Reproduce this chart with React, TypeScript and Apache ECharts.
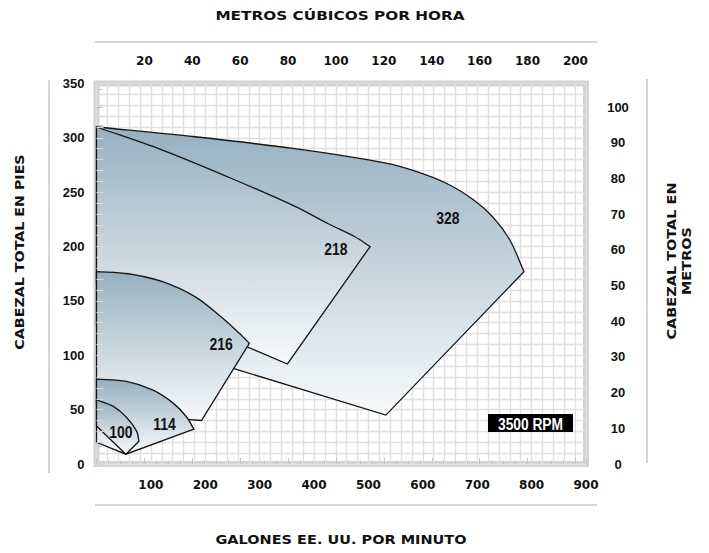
import React, { useEffect, useRef } from 'react';
import * as echarts from 'echarts';

// Unit conversions for the secondary axes
const GPM_PER_M3H = 4.40287;
const FT_PER_M = 3.28084;

// Axis ranges (GPM / feet)
const flowMax = 900;
const headMax = 350;

// Pump envelopes: curved top (max impeller) + straight remaining edges, [GPM, ft]
const top328 = [[0, 310], [181, 301], [365, 290], [530, 277], [582, 270], [644, 258], [693, 243], [729, 227], [760, 206], [786, 177]];
const edge328 = [[532, 45], [251, 88], [0, 127]];

const top218 = [[0, 310], [120, 289], [242, 264], [365, 237], [426, 221], [475, 209], [503, 200]];
const edge218 = [[351, 92], [276, 108], [0, 167]];

const top216 = [[0, 177], [58, 175], [120, 168], [181, 154], [230, 135], [261, 121], [281, 111]];
const edge216 = [[193, 40], [166, 41], [0, 56]];

const top114 = [[0, 78], [55, 76], [104, 68], [141, 56], [166, 43], [179, 32]];
const edge114 = [[54, 9], [0, 20]];

const top100 = [[0, 59], [31, 53], [55, 43], [74, 30], [78, 21]];
const edge100 = [[54, 9], [0, 35]];

const shapeTops = [top328, top218, top216, top114, top100];
const shapeEdges = [edge328, edge218, edge216, edge114, edge100];

// Envelope labels
const labelNames = ['328', '218', '216', '114', '100'];
const labelFlow = [646, 440, 229, 125, 45];
const labelHead = [226, 198, 110, 37, 29];

const rpmText = '3500 RPM';

function curvePath(pts: number[][]): string {
  // chord-scaled Hermite spline through pixel points -> cubic beziers
  const n = pts.length;
  const tan = pts.map((_, i) => {
    const a = pts[Math.max(0, i - 1)];
    const b = pts[Math.min(n - 1, i + 1)];
    const dx = b[0] - a[0];
    const dy = b[1] - a[1];
    const len = Math.hypot(dx, dy) || 1;
    return [dx / len, dy / len];
  });
  let d = '';
  for (let i = 0; i < n - 1; i++) {
    const p1 = pts[i];
    const p2 = pts[i + 1];
    const seg = Math.hypot(p2[0] - p1[0], p2[1] - p1[1]) / 3;
    const c1x = p1[0] + tan[i][0] * seg;
    const c1y = p1[1] + tan[i][1] * seg;
    const c2x = p2[0] - tan[i + 1][0] * seg;
    const c2y = p2[1] - tan[i + 1][1] * seg;
    d += ` C${c1x.toFixed(2)},${c1y.toFixed(2)} ${c2x.toFixed(2)},${c2y.toFixed(2)} ${p2[0].toFixed(2)},${p2[1].toFixed(2)}`;
  }
  return d;
}

const titleFont = 'DejaVu Sans';
const tickFont = 'DejaVu Sans';
const numFont = 'Liberation Sans, Arial, sans-serif';

function titleText(text: string, x: number, y: number, scaleX: number, rotated: boolean) {
  return {
    type: 'text',
    x,
    y,
    rotation: rotated ? Math.PI / 2 : 0,
    scaleX,
    silent: true,
    style: {
      text,
      fill: '#111',
      fontFamily: titleFont,
      fontWeight: 'bold',
      fontSize: 11.5,
      lineHeight: 15,
      textAlign: 'center',
      textVerticalAlign: 'middle',
    },
  };
}

export default function App() {
  const ref = useRef<HTMLDivElement>(null);

  useEffect(() => {
    document.body.style.margin = '0';
    const chart = echarts.init(ref.current!, undefined, { renderer: 'svg' });

    const gridLine = { color: '#e0e0e0', width: 1.4 };

    const option: any = {
      animation: false,
      backgroundColor: '#ffffff',
      grid: {
        left: 96.5,
        right: 123,
        top: 83.5,
        bottom: 89,
        show: true,
        borderColor: '#d3d3d3',
        borderWidth: 6,
        backgroundColor: '#ffffff',
        outerBoundsMode: 'none',
      },
      xAxis: [
        {
          type: 'value',
          position: 'bottom',
          min: 0,
          max: flowMax,
          interval: 100,
          axisLine: { show: false },
          axisTick: { show: false },
          axisLabel: {
            formatter: (v: number) => (v === 0 ? '' : String(v)),
            margin: 15,
            color: '#111',
            fontFamily: tickFont,
            fontWeight: 'bold',
            fontSize: 12,
          },
          splitLine: { show: true, lineStyle: gridLine },
          minorTick: { show: false, splitNumber: 5 },
          minorSplitLine: { show: true, lineStyle: gridLine },
        },
        {
          type: 'value',
          position: 'top',
          min: 0,
          max: flowMax / GPM_PER_M3H,
          interval: 20,
          offset: 3,
          axisLine: { show: false },
          axisTick: { show: true, length: 6, lineStyle: { color: '#c4c4c4', width: 1 } },
          minorTick: { show: true, splitNumber: 4, length: 3.5, lineStyle: { color: '#c4c4c4', width: 1 } },
          axisLabel: {
            formatter: (v: number) => (v > 0 && Math.abs(v % 20) < 1e-6 ? String(v) : ''),
            margin: 14,
            color: '#111',
            fontFamily: tickFont,
            fontWeight: 'bold',
            fontSize: 12,
          },
          splitLine: { show: false },
        },
      ],
      yAxis: [
        {
          type: 'value',
          position: 'left',
          min: 0,
          max: headMax,
          interval: 50,
          axisLine: { show: false },
          axisTick: { show: false },
          axisLabel: {
            margin: 12,
            color: '#111',
            fontFamily: numFont,
            fontWeight: 'bold',
            fontSize: 13,
          },
          splitLine: { show: true, lineStyle: gridLine },
          minorTick: { show: false, splitNumber: 5 },
          minorSplitLine: { show: true, lineStyle: gridLine },
        },
        {
          type: 'value',
          position: 'right',
          min: 0,
          max: headMax / FT_PER_M,
          interval: 10,
          offset: 3,
          axisLine: { show: false },
          axisTick: { show: true, length: 6, lineStyle: { color: '#c4c4c4', width: 1 } },
          minorTick: { show: true, splitNumber: 2, length: 6, lineStyle: { color: '#c4c4c4', width: 1 } },
          axisLabel: {
            formatter: (v: number) => (Math.abs(v % 10) < 1e-6 ? String(v) : ''),
            margin: 29,
            align: 'center',
            color: '#111',
            fontFamily: numFont,
            fontWeight: 'bold',
            fontSize: 13,
          },
          splitLine: { show: false },
        },
        {
          type: 'value',
          position: 'left',
          offset: 0,
          min: 0,
          max: headMax,
          interval: 50,
          z: 10,
          axisLine: { show: false },
          axisLabel: { show: false },
          splitLine: { show: false },
          axisTick: { show: true, inside: true, length: 7, lineStyle: { color: '#d8d8d8', width: 1.2 } },
          minorTick: { show: true, splitNumber: 5, length: 7, lineStyle: { color: '#d8d8d8', width: 1.2 } },
        },
      ],
      series: [
        {
          type: 'custom',
          xAxisIndex: 0,
          yAxisIndex: 0,
          clip: false,
          z: 3,
          data: shapeTops.map((_, i) => [i, 0]),
          renderItem: (params: any, api: any) => {
            const i = params.dataIndex;
            const topPx = shapeTops[i].map((p) => api.coord(p));
            const edgePx = shapeEdges[i].map((p) => api.coord(p));
            let d = `M${topPx[0][0].toFixed(2)},${topPx[0][1].toFixed(2)}`;
            d += curvePath(topPx);
            edgePx.forEach((p: number[]) => {
              d += ` L${p[0].toFixed(2)},${p[1].toFixed(2)}`;
            });
            d += ' Z';
            return {
              type: 'path',
              shape: { pathData: d },
              style: {
                fill: new echarts.graphic.LinearGradient(0, 0, 0, 1, [
                  { offset: 0, color: '#96b0c0' },
                  { offset: 1, color: '#f8fafb' },
                ]),
                stroke: '#151515',
                lineWidth: 1.3,
                lineJoin: 'miter',
              },
            };
          },
        },
        {
          type: 'custom',
          xAxisIndex: 0,
          yAxisIndex: 0,
          clip: false,
          z: 5,
          silent: true,
          data: labelNames.map((_, i) => [labelFlow[i], labelHead[i]]),
          renderItem: (params: any, api: any) => {
            const i = params.dataIndex;
            const pt = api.coord([labelFlow[i], labelHead[i]]);
            return {
              type: 'text',
              x: pt[0],
              y: pt[1],
              scaleX: 0.82,
              style: {
                text: labelNames[i],
                fill: '#111',
                fontFamily: numFont,
                fontWeight: 'bold',
                fontSize: 17,
                align: 'center',
                verticalAlign: 'middle',
              },
            };
          },
        },
      ],
      graphic: [
        { type: 'line', shape: { x1: 95, y1: 42, x2: 597, y2: 42 }, style: { stroke: '#d6d6d6', lineWidth: 2 }, silent: true },
        { type: 'line', shape: { x1: 95, y1: 505, x2: 597, y2: 505 }, style: { stroke: '#d6d6d6', lineWidth: 2 }, silent: true },
        { type: 'line', shape: { x1: 49, y1: 80, x2: 49, y2: 473 }, style: { stroke: '#d6d6d6', lineWidth: 2 }, silent: true },
        { type: 'line', shape: { x1: 647, y1: 79, x2: 647, y2: 463 }, style: { stroke: '#d6d6d6', lineWidth: 2 }, silent: true },
        titleText('METROS CÚBICOS POR HORA', 340, 16, 1.33, false),
        titleText('GALONES EE. UU. POR MINUTO', 341, 540, 1.26, false),
        titleText('CABEZAL TOTAL EN PIES', 20, 252, 1.24, true),
        titleText('CABEZAL TOTAL EN\nMETROS', 680, 261, 1.26, true),
        {
          type: 'rect',
          z: 100,
          silent: true,
          shape: { x: 488, y: 414, width: 85, height: 18 },
          style: { fill: '#000' },
        },
        {
          type: 'text',
          z: 101,
          silent: true,
          x: 530.5,
          y: 423.5,
          scaleX: 0.81,
          style: {
            text: rpmText,
            fill: '#fff',
            fontFamily: numFont,
            fontWeight: 'bold',
            fontSize: 17,
            textAlign: 'center',
            textVerticalAlign: 'middle',
          },
        },
      ],
    };

    chart.setOption(option);
    return () => chart.dispose();
  }, []);

  return <div ref={ref} style={{ position: 'absolute', left: 0, top: 0, width: 709, height: 553 }} />;
}
